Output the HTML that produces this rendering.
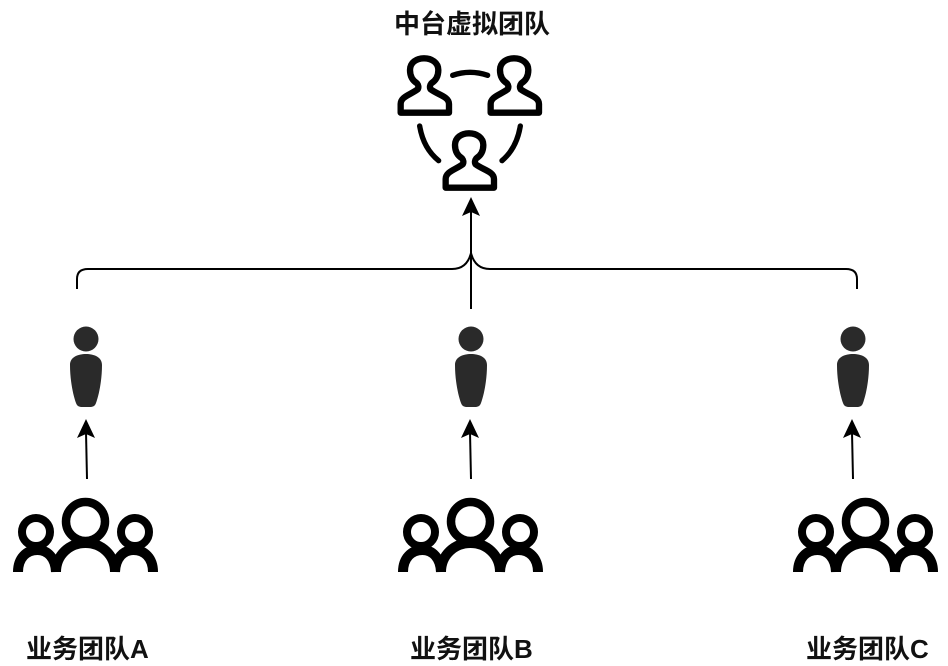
<!DOCTYPE html>
<html>
<head>
<meta charset="utf-8">
<style>
html,body{margin:0;padding:0;background:#fff;width:948px;height:666px;overflow:hidden}
svg{display:block}
text{font-family:"Liberation Sans","Noto Sans CJK SC",sans-serif;font-weight:bold;font-size:26px;fill:#111}
</style>
</head>
<body>
<svg width="948" height="666" viewBox="0 0 948 666" xmlns="http://www.w3.org/2000/svg">
<defs>
<g id="team" fill="none" stroke="#000">
  <circle cx="0" cy="521.500" r="19.500" stroke-width="8.500"/>
  <circle cx="-49.500" cy="532" r="14" stroke-width="8"/>
  <circle cx="49.500" cy="532" r="14" stroke-width="8"/>
  <path stroke-width="10" d="M-29.500 572 C-29.500 555 -16 543 0 543 C16 543 29.500 555 29.500 572"/>
  <path stroke-width="10" d="M-67.500 572 C-67.500 558 -59 550 -48 550 C-38 550 -30 558 -29.500 572"/>
  <path stroke-width="10" d="M67.500 572 C67.500 558 59 550 48 550 C38 550 30 558 29.500 572"/>
</g>
<g id="solid" fill="#2a2a2a">
  <circle cx="0" cy="339" r="12.500"/>
  <path d="M0 354 C8 354 16 357 16 365 C16 380 13 395 10 403 C9 406 7 407 4 407 H-4 C-7 407 -9 406 -10 403 C-13 395 -16 380 -16 365 C-16 357 -8 354 0 354Z"/>
</g>
<path id="head" d="M0 0 L9 19 L0 15 L-9 19 Z" fill="#000"/>
<path id="vp" fill="none" stroke="#000" stroke-width="19" stroke-linejoin="round" d="M62 338 H207 V312 C207 290 175 285 152 268 C148 262 150 255 154 250 C170 240 175 225 175 210 C175 188 155 175 132 175 C109 175 90 188 90 210 C90 225 95 240 111 250 C115 255 117 262 113 268 C90 285 62 290 62 312 Z"/>
</defs>

<g transform="translate(380 0) scale(0.3333)">
  <use href="#vp"/>
  <use href="#vp" x="270"/>
  <use href="#vp" x="135" y="225"/>
  <g fill="none" stroke="#000" stroke-width="16" stroke-linecap="round">
    <path d="M218 226 Q270 208 323 226"/>
    <path d="M119 378 Q130 445 176 482"/>
    <path d="M421 378 Q410 445 366 482"/>
  </g>
</g>

<g fill="none" stroke="#000" stroke-width="2">
  <path d="M471 309 V210"/>
  <path d="M77 289 V279 Q77 269 88 269 H452 Q467 269 471 253 Q475 269 490 269 H846 Q857 269 857 279 V289"/>
  <path d="M87 479 L86 432"/>
  <path d="M471 479 L470 432"/>
  <path d="M853 479 L852 432"/>
</g>
<use href="#head" x="471" y="197"/>
<use href="#head" x="86" y="419"/>
<use href="#head" x="470" y="419"/>
<use href="#head" x="852" y="419"/>

<use href="#solid" x="86"/>
<use href="#solid" x="471"/>
<use href="#solid" x="853"/>

<use href="#team" x="85.500"/>
<use href="#team" x="470.500"/>
<use href="#team" x="865.500"/>

<text x="394" y="33">中台虚拟团队</text>
<text x="26" y="658">业务团队A</text>
<text x="410" y="658">业务团队B</text>
<text x="806" y="658">业务团队C</text>
</svg>
</body>
</html>
